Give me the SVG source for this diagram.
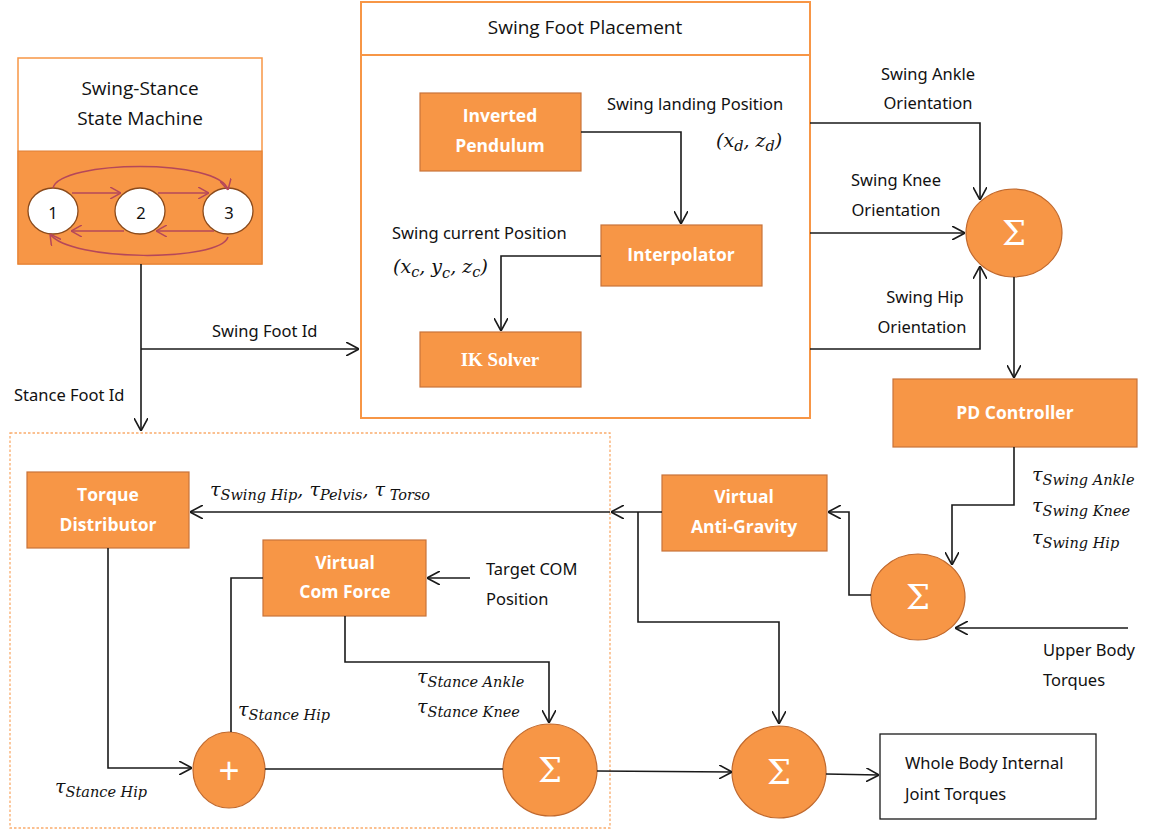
<svg xmlns="http://www.w3.org/2000/svg" width="1154" height="833" viewBox="0 0 1154 833">
  <defs>
    <marker id="arr" viewBox="0 0 13 14" markerWidth="13" markerHeight="14" refX="13" refY="7" orient="auto" markerUnits="userSpaceOnUse">
      <path d="M0,0 L13,7 L0,14" fill="none" stroke="#1a1a1a" stroke-width="1.6"/>
    </marker>
    <marker id="arrR" viewBox="0 0 11 12" markerWidth="11" markerHeight="12" refX="11" refY="6" orient="auto" markerUnits="userSpaceOnUse">
      <path d="M0,0 L11,6 L0,12" fill="none" stroke="#b5475a" stroke-width="1.5"/>
    </marker>
    <style>
      .blk { fill: #F79646; stroke: #C8733A; stroke-width: 1.2; }
      .sum { fill: #F79646; stroke: #C0692E; stroke-width: 1.2; }
      .frame { fill: #fff; stroke: #F79646; stroke-width: 2; }
      .btxt { font-family: "Open Sans", "Liberation Sans", sans-serif; font-weight: bold; font-size: 17.5px; fill: #fff; text-anchor: middle; }
      .ttl { font-family: "Open Sans", "Liberation Sans", sans-serif; font-size: 19px; fill: #111; text-anchor: middle; }
      .hand { font-family: "Noto Sans", "Open Sans", sans-serif; font-size: 16.5px; fill: #111; }
      .math { font-family: "DejaVu Serif", "Liberation Serif", serif; font-style: italic; fill: #111; }
      .tau { font-size: 19px; }
      .sub { font-size: 14.5px; }
      .sig { font-family: "DejaVu Serif", "Liberation Serif", serif; font-size: 34px; fill: #fff; text-anchor: middle; }
      .wire { fill: none; stroke: #1a1a1a; stroke-width: 1.6; }
      .sm { fill: none; stroke: #b5475a; stroke-width: 1.5; }
    </style>
  </defs>

  <!-- swing-stance state machine -->
  <g id="state-machine">
    <rect x="18" y="58" width="244" height="206" fill="#fff" stroke="#F79646" stroke-width="1.5"/>
    <rect x="18" y="151" width="244" height="113" fill="#F79646" stroke="#E07F35" stroke-width="1"/>
    <text class="ttl" x="140" y="95">Swing-Stance</text>
    <text class="ttl" x="140" y="125">State Machine</text>
    <ellipse cx="53" cy="211" rx="25" ry="23" fill="#fff" stroke="#8a4a1c" stroke-width="1.3"/>
    <ellipse cx="140" cy="211" rx="25" ry="23" fill="#fff" stroke="#8a4a1c" stroke-width="1.3"/>
    <ellipse cx="228" cy="211" rx="25" ry="23" fill="#fff" stroke="#8a4a1c" stroke-width="1.3"/>
    <text class="hand" x="53" y="219" text-anchor="middle" font-size="20">1</text>
    <text class="hand" x="141" y="219" text-anchor="middle" font-size="20">2</text>
    <text class="hand" x="229" y="219" text-anchor="middle" font-size="20">3</text>
    <path class="sm" d="M53,188 C60,160 220,158 228,190" marker-end="url(#arrR)"/>
    <path class="sm" d="M72,193 L121,193" marker-end="url(#arrR)"/>
    <path class="sm" d="M158,193 L209,193" marker-end="url(#arrR)"/>
    <path class="sm" d="M214,231 L156,231" marker-end="url(#arrR)"/>
    <path class="sm" d="M124,231 L71,231" marker-end="url(#arrR)"/>
    <path class="sm" d="M228,237 C220,262 70,262 50,234" marker-end="url(#arrR)"/>
  </g>

  <!-- swing foot placement frame -->
  <g id="swing-foot-placement">
    <rect class="frame" x="361" y="2" width="449" height="416"/>
    <line x1="361" y1="55" x2="810" y2="55" stroke="#F79646" stroke-width="2"/>
    <text class="ttl" x="585" y="34">Swing Foot Placement</text>
  </g>

  <g id="inverted-pendulum">
    <rect class="blk" x="420" y="93" width="161" height="78"/>
    <text class="btxt" x="500" y="122">Inverted</text>
    <text class="btxt" x="500" y="152">Pendulum</text>
  </g>

  <g id="interpolator">
    <rect class="blk" x="601" y="225" width="161" height="61"/>
    <text class="btxt" x="681" y="261">Interpolator</text>
  </g>

  <g id="ik-solver">
    <rect class="blk" x="420" y="332" width="161" height="55"/>
    <text x="500" y="366" font-family="Liberation Serif, serif" font-weight="bold" font-size="19" fill="#fff" text-anchor="middle">IK Solver</text>
  </g>

  <g id="sum-orientation">
    <ellipse class="sum" cx="1014" cy="233" rx="48" ry="44"/>
    <text class="sig" x="1014" y="245">Σ</text>
  </g>

  <g id="pd-controller">
    <rect class="blk" x="893" y="379" width="244" height="68"/>
    <text class="btxt" x="1015" y="419">PD Controller</text>
  </g>

  <g id="sum-swing">
    <ellipse class="sum" cx="918" cy="597" rx="47" ry="43"/>
    <text class="sig" x="918" y="609">Σ</text>
  </g>

  <g id="virtual-anti-gravity">
    <rect class="blk" x="662" y="475" width="165" height="76"/>
    <text class="btxt" x="744" y="503">Virtual</text>
    <text class="btxt" x="744" y="533">Anti-Gravity</text>
  </g>

  <!-- stance leg controller region -->
  <g id="stance-region">
    <rect x="10" y="433" width="600" height="395" fill="none" stroke="#F79646" stroke-width="1.3" stroke-dasharray="2.5,2" opacity="0.8"/>
  </g>

  <g id="torque-distributor">
    <rect class="blk" x="27" y="472" width="162" height="76"/>
    <text class="btxt" x="108" y="501">Torque</text>
    <text class="btxt" x="108" y="531">Distributor</text>
  </g>

  <g id="virtual-com-force">
    <rect class="blk" x="263" y="540" width="163" height="76"/>
    <text class="btxt" x="345" y="569">Virtual</text>
    <text class="btxt" x="345" y="598">Com Force</text>
  </g>

  <g id="plus-hip">
    <ellipse class="sum" cx="229" cy="770" rx="36" ry="38"/>
    <text x="229" y="783" font-family="Liberation Sans, sans-serif" font-size="36" fill="#fff" text-anchor="middle">+</text>
  </g>

  <g id="sum-stance">
    <ellipse class="sum" cx="550" cy="770" rx="47" ry="46"/>
    <text class="sig" x="550" y="782">Σ</text>
  </g>

  <g id="sum-total">
    <ellipse class="sum" cx="779" cy="772" rx="47" ry="46"/>
    <text class="sig" x="779" y="784">Σ</text>
  </g>

  <g id="whole-body-output">
    <rect x="880" y="734" width="216" height="85" fill="#fff" stroke="#1a1a1a" stroke-width="1.3"/>
    <text class="hand" x="905" y="769" font-size="17.5">Whole Body Internal</text>
    <text class="hand" x="905" y="800" font-size="17.5">Joint Torques</text>
  </g>

  <!-- connectors -->
  <g id="connectors">
    <path class="wire" d="M141,264 L141,431" marker-end="url(#arr)"/>
    <path class="wire" d="M141,349 L359,349" marker-end="url(#arr)"/>
    <path class="wire" d="M581,132 L681,132 L681,224" marker-end="url(#arr)"/>
    <path class="wire" d="M601,256 L501,256 L501,331" marker-end="url(#arr)"/>
    <path class="wire" d="M810,123 L980,123 L980,200" marker-end="url(#arr)"/>
    <path class="wire" d="M810,233 L965,233" marker-end="url(#arr)"/>
    <path class="wire" d="M810,349 L980,349 L980,266" marker-end="url(#arr)"/>
    <path class="wire" d="M1014,277 L1014,378" marker-end="url(#arr)"/>
    <path class="wire" d="M1014,447 L1014,505 L952,505 L952,565" marker-end="url(#arr)"/>
    <path class="wire" d="M1128,628 L955,628" marker-end="url(#arr)"/>
    <path class="wire" d="M871,595 L849,595 L849,512 L828,512" marker-end="url(#arr)"/>
    <path class="wire" d="M662,512 L611,512" marker-end="url(#arr)"/>
    <path class="wire" d="M638,512 L638,622 L779,622 L779,724" marker-end="url(#arr)"/>
    <path class="wire" d="M610,512 L190,512" marker-end="url(#arr)"/>
    <path class="wire" d="M470,578 L427,578" marker-end="url(#arr)"/>
    <path class="wire" d="M263,578 L231,578 L231,732"/>
    <path class="wire" d="M345,616 L345,662 L549,662 L549,723" marker-end="url(#arr)"/>
    <path class="wire" d="M108,548 L108,768 L192,768" marker-end="url(#arr)"/>
    <path class="wire" d="M265,769 L503,769"/>
    <path class="wire" d="M597,771 L732,772" marker-end="url(#arr)"/>
    <path class="wire" d="M826,774 L879,775" marker-end="url(#arr)"/>
  </g>

  <!-- signal labels -->
  <g id="labels">
    <text class="hand" x="928" y="80" text-anchor="middle">Swing Ankle</text>
    <text class="hand" x="928" y="109" text-anchor="middle">Orientation</text>
    <text class="hand" x="896" y="186" text-anchor="middle">Swing Knee</text>
    <text class="hand" x="896" y="216" text-anchor="middle">Orientation</text>
    <text class="hand" x="925" y="303" text-anchor="middle">Swing Hip</text>
    <text class="hand" x="922" y="333" text-anchor="middle">Orientation</text>
    <text class="hand" x="607" y="110">Swing landing Position</text>
    <text class="math" x="716" y="147" font-size="19">(<tspan>x</tspan><tspan class="sub" dy="4">d</tspan><tspan dy="-4">, z</tspan><tspan class="sub" dy="4">d</tspan><tspan dy="-4">)</tspan></text>
    <text class="hand" x="392" y="239">Swing current Position</text>
    <text class="math" x="393" y="273" font-size="19">(<tspan>x</tspan><tspan class="sub" dy="4">c</tspan><tspan dy="-4">, y</tspan><tspan class="sub" dy="5">c</tspan><tspan dy="-5">, z</tspan><tspan class="sub" dy="4">c</tspan><tspan dy="-4">)</tspan></text>
    <text class="hand" x="212" y="337">Swing Foot Id</text>
    <text class="hand" x="14" y="401">Stance Foot Id</text>
    <text class="hand" x="486" y="575">Target COM</text>
    <text class="hand" x="486" y="605">Position</text>
    <text class="hand" x="1043" y="656">Upper Body</text>
    <text class="hand" x="1043" y="686">Torques</text>
    <text class="math" x="210" y="496"><tspan class="tau">τ</tspan><tspan class="sub" dy="4">Swing Hip</tspan><tspan class="tau" dy="-4">,  τ</tspan><tspan class="sub" dy="4">Pelvis</tspan><tspan class="tau" dy="-4">, τ</tspan><tspan class="sub" dy="4"> Torso</tspan></text>
    <text class="math" x="417" y="683"><tspan class="tau">τ</tspan><tspan class="sub" dy="4">Stance Ankle</tspan></text>
    <text class="math" x="417" y="713"><tspan class="tau">τ</tspan><tspan class="sub" dy="4">Stance Knee</tspan></text>
    <text class="math" x="238" y="716"><tspan class="tau">τ</tspan><tspan class="sub" dy="4">Stance Hip</tspan></text>
    <text class="math" x="55" y="793"><tspan class="tau">τ</tspan><tspan class="sub" dy="4">Stance Hip</tspan></text>
    <text class="math" x="1032" y="481"><tspan class="tau">τ</tspan><tspan class="sub" dy="4">Swing Ankle</tspan></text>
    <text class="math" x="1032" y="512"><tspan class="tau">τ</tspan><tspan class="sub" dy="4">Swing Knee</tspan></text>
    <text class="math" x="1032" y="544"><tspan class="tau">τ</tspan><tspan class="sub" dy="4">Swing Hip</tspan></text>
  </g>
</svg>
